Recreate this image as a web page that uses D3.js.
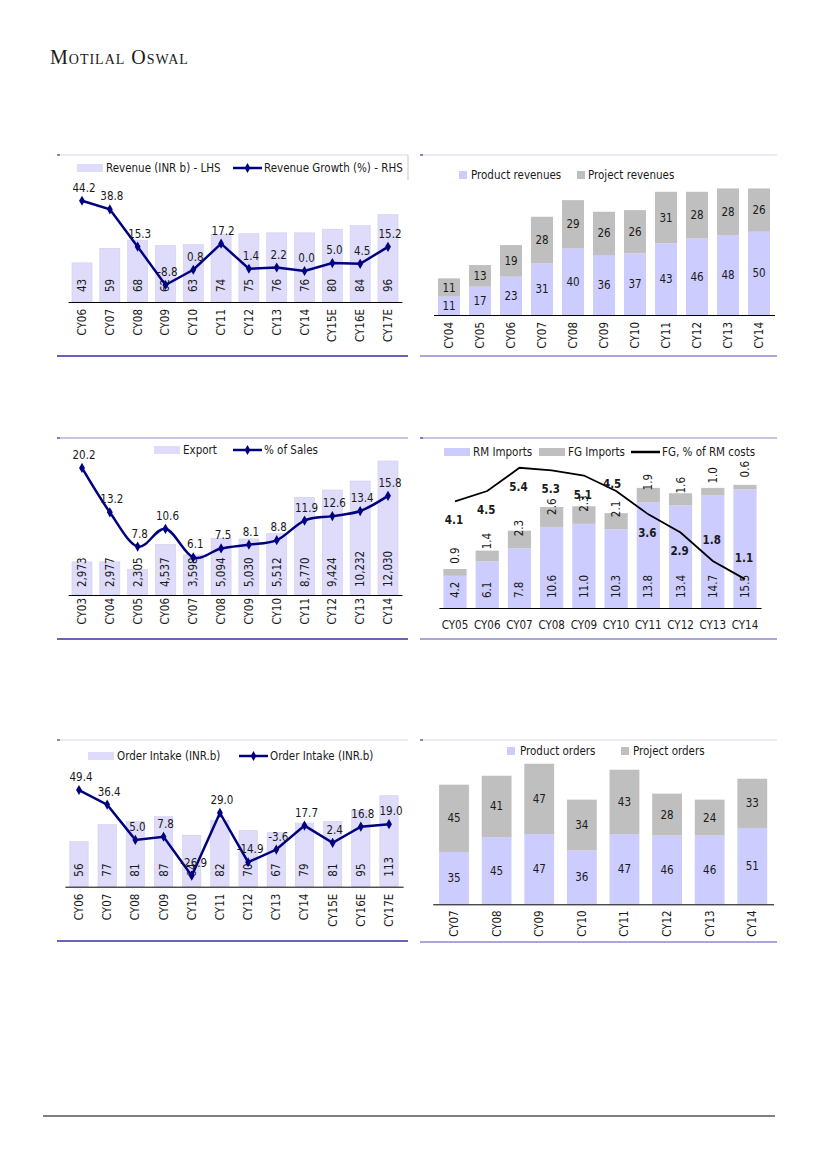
<!DOCTYPE html>
<html>
<head>
<meta charset="utf-8">
<script src="https://cdnjs.cloudflare.com/ajax/libs/d3/7.8.5/d3.min.js"></script>
<style>
body { margin: 0; background: #fff; }
svg text { font-family: "DejaVu Sans Condensed", "DejaVu Sans", sans-serif; fill: #1a1a1a; }
</style>
</head>
<body>
<div id="page"></div>
<script>
// revenue (top left)
var revYears = ["CY06","CY07","CY08","CY09","CY10","CY11","CY12","CY13","CY14","CY15E","CY16E","CY17E"];
var revenue = [43,59,68,62,63,74,75,76,76,80,84,96];
var revGrowth = [44.2,38.8,15.3,-8.8,0.8,17.2,1.4,2.2,0.0,5.0,4.5,15.2];

// product / project revenues (top right)
var splitYears = ["CY04","CY05","CY06","CY07","CY08","CY09","CY10","CY11","CY12","CY13","CY14"];
var productRev = [11,17,23,31,40,36,37,43,46,48,50];
var projectRev = [11,13,19,28,29,26,26,31,28,28,26];

// exports (middle left)
var exportYears = ["CY03","CY04","CY05","CY06","CY07","CY08","CY09","CY10","CY11","CY12","CY13","CY14"];
var exportVals = [2973,2977,2305,4537,3598,5094,5030,5512,8770,9424,10232,12030];
var exportShare = [20.2,13.2,7.8,10.6,6.1,7.5,8.1,8.8,11.9,12.6,13.4,15.8];

// imports (middle right)
var importYears = ["CY05","CY06","CY07","CY08","CY09","CY10","CY11","CY12","CY13","CY14"];
var rmImports = [4.2,6.1,7.8,10.6,11.0,10.3,13.8,13.4,14.7,15.5];
var fgImports = [0.9,1.4,2.3,2.6,2.3,2.1,1.9,1.6,1.0,0.6];
var fgShare = [4.1,4.5,5.4,5.3,5.1,4.5,3.6,2.9,1.8,1.1];
var fgLabelAbove = ["CY13","CY14"];
var fgLabelBeside = ["CY10"];

// order intake (bottom left)
var orderYears = ["CY06","CY07","CY08","CY09","CY10","CY11","CY12","CY13","CY14","CY15E","CY16E","CY17E"];
var orderIntake = [56,77,81,87,64,82,70,67,79,81,95,113];
var orderGrowth = [49.4,36.4,5.0,7.8,-26.9,29.0,-14.9,-3.6,17.7,2.4,16.8,19.0];

// order mix (bottom right)
var mixYears = ["CY07","CY08","CY09","CY10","CY11","CY12","CY13","CY14"];
var productOrders = [35,45,47,36,47,46,46,51];
var projectOrders = [45,41,47,34,43,28,24,33];

var NAVY = "#000080";
var BAR_LIGHT = "#dedcfa";
var BAR_BLUE = "#ccccff";
var BAR_GREY = "#bfbfbf";
var FS = "11.5px";
var f1 = function(d) { return d.toFixed(1); };

var svg = d3.select("#page")
  .append("svg")
    .attr("width", 827)
    .attr("height", 1169);

// header
svg.append("text")
  .attr("x", 50)
  .attr("y", 64)
  .style("font-family", "'Liberation Serif', 'DejaVu Serif', serif")
  .style("font-variant", "small-caps")
  .style("font-size", "20px")
  .style("letter-spacing", "1px")
  .text("Motilal Oswal");

svg.append("line")
  .attr("x1", 43).attr("x2", 775)
  .attr("y1", 1116).attr("y2", 1116)
  .attr("stroke", "#000")
  .attr("stroke-width", 1.2);

// y scale from zero position and pixels per unit
function yLin(zero, k, lo, hi) {
  return d3.scaleLinear().domain([lo, hi]).range([zero - lo * k, zero - hi * k]);
}

function band(cats, x0, x1, pad) {
  return d3.scaleBand().domain(cats).range([x0, x1]).paddingInner(pad).paddingOuter(pad / 2);
}

function frame(x0, x1, top, bottom, topColor, botColor) {
  svg.append("line")
    .attr("x1", x0).attr("x2", x1).attr("y1", top).attr("y2", top)
    .attr("stroke", topColor).attr("stroke-width", 1);
  svg.append("line")
    .attr("x1", x0).attr("x2", x0 + 3).attr("y1", top).attr("y2", top)
    .attr("stroke", "#6a64a8").attr("stroke-width", 1.5);
  svg.append("line")
    .attr("x1", x0).attr("x2", x1).attr("y1", bottom).attr("y2", bottom)
    .attr("stroke", botColor).attr("stroke-width", 2);
}

function xAxis(x, base, rotated, gap) {
  var g = svg.append("g")
    .attr("transform", "translate(0," + base + ")")
    .call(d3.axisBottom(x).tickSize(0).tickSizeOuter(0));
  g.select(".domain").attr("stroke", "#000").attr("stroke-width", 1);
  g.selectAll("text")
    .style("font-size", FS)
    .style("font-family", "'DejaVu Sans Condensed','DejaVu Sans',sans-serif")
    .attr("fill", "#1a1a1a");
  if (rotated) {
    g.selectAll("text")
      .attr("transform", "rotate(-90)")
      .attr("text-anchor", "end")
      .attr("x", -gap)
      .attr("y", 0)
      .attr("dy", "0.35em");
  } else {
    g.selectAll("text").attr("y", gap);
  }
}

function legendBox(x, y, w, color, label) {
  svg.append("rect")
    .attr("x", x).attr("y", y - 4).attr("width", w).attr("height", 8)
    .attr("fill", color);
  svg.append("text")
    .attr("x", x + w + 3).attr("y", y)
    .attr("dy", "0.35em")
    .style("font-size", FS)
    .text(label);
}

function legendLine(x, y, w, color, marker, label) {
  svg.append("line")
    .attr("x1", x).attr("x2", x + w).attr("y1", y).attr("y2", y)
    .attr("stroke", color).attr("stroke-width", 2.5);
  if (marker) {
    svg.append("path")
      .attr("transform", "translate(" + (x + w / 2) + "," + y + ")")
      .attr("d", d3.symbol().type(d3.symbolDiamond).size(28))
      .attr("fill", color);
  }
  svg.append("text")
    .attr("x", x + w + 2).attr("y", y)
    .attr("dy", "0.35em")
    .style("font-size", FS)
    .text(label);
}

// bars on the left axis, growth line on the right axis
function comboChart(o) {
  var x = o.x;
  var cx = function(d, i) { return x(o.cats[i]) + x.bandwidth() / 2; };

  svg.append("g")
    .selectAll("rect")
    .data(o.bars)
    .enter()
    .append("rect")
      .attr("x", function(d, i) { return x(o.cats[i]); })
      .attr("y", function(d) { return o.yBar(d); })
      .attr("width", x.bandwidth())
      .attr("height", function(d) { return o.yBar(0) - o.yBar(d); })
      .attr("fill", BAR_LIGHT)
      .attr("stroke", "#cfcde8")
      .attr("stroke-width", 0.6);

  svg.append("g")
    .selectAll("text")
    .data(o.bars)
    .enter()
    .append("text")
      .attr("transform", function(d, i) { return "translate(" + cx(d, i) + "," + (o.base - o.labelGap) + ") rotate(-90)"; })
      .attr("dy", "0.35em")
      .style("font-size", FS)
      .text(function(d) { return o.barFormat(d); });

  xAxis(x, o.base, true, o.tickGap);

  var line = d3.line()
    .curve(o.smooth ? d3.curveCardinal.tension(0) : d3.curveLinear)
    .x(function(d, i) { return cx(d, i); })
    .y(function(d) { return o.yLine(d); });

  svg.append("path")
    .datum(o.line)
    .attr("fill", "none")
    .attr("stroke", NAVY)
    .attr("stroke-width", 2.5)
    .attr("d", line);

  svg.append("g")
    .selectAll("path")
    .data(o.line)
    .enter()
    .append("path")
      .attr("transform", function(d, i) { return "translate(" + cx(d, i) + "," + o.yLine(d) + ")"; })
      .attr("d", d3.symbol().type(d3.symbolDiamond).size(30))
      .attr("fill", NAVY);

  svg.append("g")
    .selectAll("text")
    .data(o.line)
    .enter()
    .append("text")
      .attr("x", function(d, i) { return cx(d, i) + 2; })
      .attr("y", function(d) { return o.yLine(d) - 9; })
      .attr("text-anchor", "middle")
      .style("font-size", FS)
      .text(function(d) { return f1(d); });
}

// two-part stacked bars with centred labels
function stackChart(o) {
  var x = o.x;
  var rows = o.cats.map(function(c, i) { return {cat: c, a: o.lower[i], b: o.upper[i]}; });
  var stack = d3.stack().keys(["a", "b"])(rows);
  var colors = [BAR_BLUE, BAR_GREY];

  stack.forEach(function(layer, k) {
    svg.append("g")
      .selectAll("rect")
      .data(layer)
      .enter()
      .append("rect")
        .attr("x", function(d) { return x(d.data.cat); })
        .attr("y", function(d) { return o.y(d[1]); })
        .attr("width", x.bandwidth())
        .attr("height", function(d) { return o.y(d[0]) - o.y(d[1]); })
        .attr("fill", colors[k]);

    svg.append("g")
      .selectAll("text")
      .data(layer)
      .enter()
      .append("text")
        .attr("x", function(d) { return x(d.data.cat) + x.bandwidth() / 2; })
        .attr("y", function(d) { return o.y((d[0] + d[1]) / 2); })
        .attr("dy", "0.35em")
        .attr("text-anchor", "middle")
        .style("font-size", FS)
        .text(function(d) { return d[1] - d[0]; });
  });

  xAxis(x, o.base, true, o.tickGap);
}

// ---- chart 1
frame(57, 408, 155, 356, "#d8d5ee", "#6b63b8");
svg.append("line").attr("x1", 408).attr("x2", 408).attr("y1", 155).attr("y2", 180).attr("stroke", "#c8c8c8");
comboChart({
  cats: revYears, bars: revenue, line: revGrowth,
  x: band(revYears, 68.1, 401.9, 0.28),
  yBar: yLin(302, 0.91, 0, 120),
  yLine: yLin(271, 1.59, -20, 50),
  base: 302, labelGap: 10, tickGap: 7,
  barFormat: d3.format("d"), smooth: false
});
legendBox(77, 168, 26, BAR_LIGHT, "Revenue (INR b) - LHS");
legendLine(233, 168, 29, NAVY, true, "Revenue Growth (%) - RHS");

// ---- chart 2
frame(420, 777, 155, 356, "#d8d5ee", "#aaa6dc");
stackChart({
  cats: splitYears, lower: productRev, upper: projectRev,
  x: band(splitYears, 433.5, 774.5, 0.29),
  y: yLin(315, 1.665, 0, 90),
  base: 315, tickGap: 7
});
svg.append("rect").attr("x", 459).attr("y", 171).attr("width", 8).attr("height", 8).attr("fill", BAR_BLUE);
svg.append("text").attr("x", 471).attr("y", 175).attr("dy", "0.35em").style("font-size", FS).text("Product revenues");
svg.append("rect").attr("x", 577).attr("y", 171).attr("width", 8).attr("height", 8).attr("fill", BAR_GREY);
svg.append("text").attr("x", 588).attr("y", 175).attr("dy", "0.35em").style("font-size", FS).text("Project revenues");

// ---- chart 3
frame(57, 408, 438, 639, "#8e88c8", "#6b63b8");
comboChart({
  cats: exportYears, bars: exportVals, line: exportShare,
  x: band(exportYears, 68.1, 401.9, 0.28),
  yBar: yLin(595, 0.01114, 0, 14000),
  yLine: yLin(596, 6.34, 0, 25),
  base: 595, labelGap: 8, tickGap: 3,
  barFormat: d3.format(","), smooth: true
});
legendBox(154, 450, 26, BAR_LIGHT, "Export");
legendLine(233, 450, 29, NAVY, true, "% of Sales");

// ---- chart 4
frame(420, 777, 438, 639, "#8e88c8", "#aaa6dc");
(function() {
  var x = band(importYears, 438.9, 761.1, 0.28);
  var y = yLin(608, 7.65, 0, 20);
  var yPct = yLin(607.6, 25.9, 0, 6);
  var cx = function(c) { return x(c) + x.bandwidth() / 2; };
  var rows = importYears.map(function(c, i) { return {cat: c, rm: rmImports[i], fg: fgImports[i], pct: fgShare[i]}; });
  var stack = d3.stack().keys(["rm", "fg"])(rows);
  var colors = [BAR_BLUE, BAR_GREY];

  stack.forEach(function(layer, k) {
    svg.append("g")
      .selectAll("rect")
      .data(layer)
      .enter()
      .append("rect")
        .attr("x", function(d) { return x(d.data.cat); })
        .attr("y", function(d) { return y(d[1]); })
        .attr("width", x.bandwidth())
        .attr("height", function(d) { return y(d[0]) - y(d[1]); })
        .attr("fill", colors[k]);

    svg.append("g")
      .selectAll("text")
      .data(layer)
      .enter()
      .append("text")
        .attr("transform", function(d) { return "translate(" + cx(d.data.cat) + "," + (y(d[0]) - (k ? 12 : 10)) + ") rotate(-90)"; })
        .attr("dy", "0.35em")
        .style("font-size", FS)
        .text(function(d) { return f1(d[1] - d[0]); });
  });

  xAxis(x, 608, false, 13);

  svg.append("path")
    .datum(rows)
    .attr("fill", "none")
    .attr("stroke", "#000")
    .attr("stroke-width", 1.8)
    .attr("d", d3.line()
      .x(function(d) { return cx(d.cat); })
      .y(function(d) { return yPct(d.pct); }));

  // labels sit below the line, except where bars or the line get in the way
  svg.append("g")
    .selectAll("text")
    .data(rows)
    .enter()
    .append("text")
      .attr("x", function(d) { return cx(d.cat) - (fgLabelBeside.indexOf(d.cat) >= 0 ? 4 : 1); })
      .attr("y", function(d) {
        if (fgLabelAbove.indexOf(d.cat) >= 0) return yPct(d.pct) - 17;
        if (fgLabelBeside.indexOf(d.cat) >= 0) return yPct(d.pct) - 3;
        return yPct(d.pct) + 23;
      })
      .attr("text-anchor", "middle")
      .style("font-size", FS)
      .style("font-weight", "bold")
      .text(function(d) { return f1(d.pct); });

  legendBox(444, 452, 26, BAR_BLUE, "RM Imports");
  legendBox(539, 452, 26, BAR_GREY, "FG Imports");
  legendLine(631, 452, 29, "#000", false, "FG, % of RM costs");
})();

// ---- chart 5
frame(57, 408, 740, 941, "#d8d5ee", "#6b63b8");
comboChart({
  cats: orderYears, bars: orderIntake, line: orderGrowth,
  x: band(orderYears, 64.9, 403.1, 0.35),
  yBar: yLin(886.7, 0.805, 0, 140),
  yLine: yLin(845.5, 1.123, -40, 60),
  base: 886.7, labelGap: 10, tickGap: 7,
  barFormat: d3.format("d"), smooth: false
});
legendBox(88, 756, 26, BAR_LIGHT, "Order Intake (INR.b)");
legendLine(239, 756, 29, NAVY, true, "Order Intake (INR.b)");

// ---- chart 6
frame(420, 777, 740, 942, "#d8d5ee", "#aaa6dc");
stackChart({
  cats: mixYears, lower: productOrders, upper: projectOrders,
  x: band(mixYears, 432.7, 773.6, 0.3),
  y: yLin(904.3, 1.495, 0, 100),
  base: 904.3, tickGap: 6
});
svg.append("rect").attr("x", 507).attr("y", 747).attr("width", 8).attr("height", 8).attr("fill", BAR_BLUE);
svg.append("text").attr("x", 520).attr("y", 751).attr("dy", "0.35em").style("font-size", FS).text("Product orders");
svg.append("rect").attr("x", 621).attr("y", 747).attr("width", 8).attr("height", 8).attr("fill", BAR_GREY);
svg.append("text").attr("x", 633).attr("y", 751).attr("dy", "0.35em").style("font-size", FS).text("Project orders");
</script>
</body>
</html>
